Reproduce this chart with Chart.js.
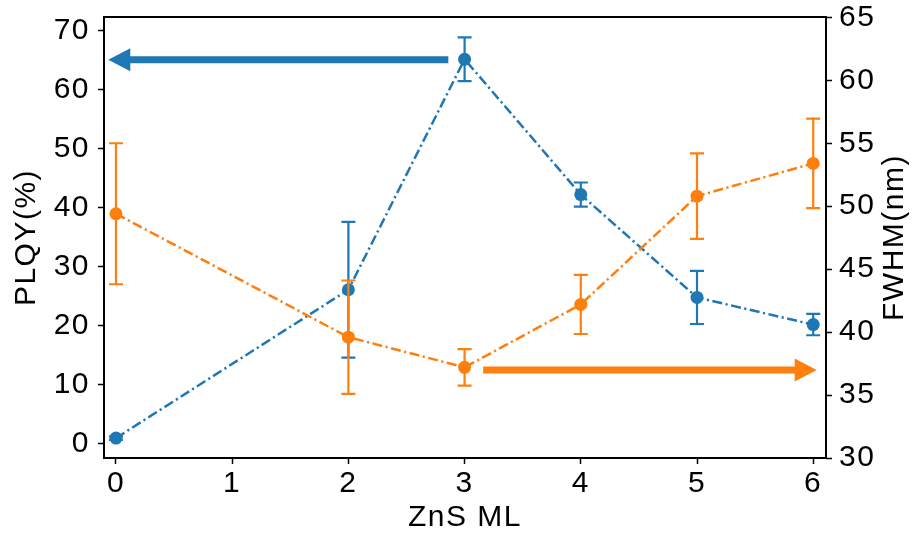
<!DOCTYPE html>
<html><head><meta charset="utf-8">
<script src="https://cdn.jsdelivr.net/npm/chart.js@4"></script>
<style>html,body{margin:0;padding:0;background:#fff}</style>
</head><body>
<canvas id="c" width="917" height="535" style="display:block;width:917px;height:535px"></canvas>
<script>
// ---- data ----
const znsML      = [0, 2, 3, 4, 5, 6];
const plqy       = [1.0, 26.1, 65.1, 42.2, 24.8, 20.2];
const plqyErr    = [0.3, 11.5, 3.7, 2.05, 4.5, 1.8];
const fwhm       = [49.4, 39.6, 37.2, 42.2, 50.8, 53.4];
const fwhmErr    = [5.6, 4.5, 1.45, 2.35, 3.4, 3.55];
const xTicks     = [0, 1, 2, 3, 4, 5, 6];
const plqyTicks  = [0, 10, 20, 30, 40, 50, 60, 70];
const fwhmTicks  = [30, 35, 40, 45, 50, 55, 60, 65];
const plqyArrowX = [2.86, -0.066];   // tail, tip (ZnS ML units)
const plqyArrowY = 65;               // PLQY axis value
const fwhmArrowX = [3.16, 6.03];
const fwhmArrowY = 37;               // FWHM axis value

const BLUE = '#1f77b4', ORANGE = '#ff7f0e';
const FAMILY = '"Liberation Sans", Arial, sans-serif';
const LS = '1.5px';

const pts = (ys) => znsML.map((x, i) => ({x, y: ys[i]}));

const custom = {
  id: 'custom',
  beforeUpdate(chart) { chart.ctx.letterSpacing = LS; },
  beforeDraw(chart) { chart.ctx.letterSpacing = LS; },
  beforeDatasetsDraw(chart) {
    const {ctx, chartArea: a} = chart;
    ctx.save();
    ctx.strokeStyle = '#000';
    ctx.lineWidth = 2;
    ctx.strokeRect(a.left, a.top, a.right - a.left, a.bottom - a.top);
    ctx.restore();
  },
  beforeDatasetDraw(chart, args) {
    const ds = chart.data.datasets[args.index];
    const ctx = chart.ctx, xs = chart.scales.x, ys = chart.scales[ds.yAxisID];
    ctx.save();
    ctx.strokeStyle = ds.borderColor;
    ctx.lineWidth = 2.2;
    ds.data.forEach((p, i) => {
      const e = ds.errors[i];
      const px = xs.getPixelForValue(p.x);
      const lo = ys.getPixelForValue(p.y - e), hi = ys.getPixelForValue(p.y + e);
      ctx.beginPath();
      ctx.moveTo(px, lo); ctx.lineTo(px, hi);
      ctx.moveTo(px - 7, lo); ctx.lineTo(px + 7, lo);
      ctx.moveTo(px - 7, hi); ctx.lineTo(px + 7, hi);
      ctx.stroke();
    });
    ctx.restore();
  },
  afterDatasetsDraw(chart) {
    const ctx = chart.ctx, xs = chart.scales.x;
    const arrow = (xv, yv, ys, color) => {
      const tail = xs.getPixelForValue(xv[0]), tip = xs.getPixelForValue(xv[1]);
      const y = ys.getPixelForValue(yv);
      const d = tip < tail ? 1 : -1, hl = 22, hw = 11.5, sw = 3.5;
      const base = tip + d * hl;
      ctx.save();
      ctx.fillStyle = color;
      ctx.beginPath();
      ctx.moveTo(tail, y - sw);
      ctx.lineTo(base, y - sw);
      ctx.lineTo(base, y - hw);
      ctx.lineTo(tip, y);
      ctx.lineTo(base, y + hw);
      ctx.lineTo(base, y + sw);
      ctx.lineTo(tail, y + sw);
      ctx.closePath();
      ctx.fill();
      ctx.restore();
    };
    arrow(plqyArrowX, plqyArrowY, chart.scales.y, BLUE);
    arrow(fwhmArrowX, fwhmArrowY, chart.scales.y1, ORANGE);
  },
  afterDraw(chart) {
    const {ctx, chartArea: a} = chart;
    ctx.save();
    ctx.letterSpacing = LS;
    ctx.font = '30px ' + FAMILY;
    ctx.fillStyle = '#000';
    ctx.textAlign = 'center';
    ctx.textBaseline = 'middle';
    ctx.translate(895, (a.top + a.bottom) / 2);
    ctx.rotate(-Math.PI / 2);
    ctx.fillText('FWHM(nm)', 0, 0);
    ctx.restore();
  }
};

const tickFont = {family: FAMILY, size: 30, lineHeight: 1};
const yTickFont = {family: FAMILY, size: 30, lineHeight: 0.5};
const gridOpts = {display: true, drawOnChartArea: false, drawTicks: true, tickLength: 6, tickWidth: 1.5, tickColor: '#000'};

new Chart(document.getElementById('c'), {
  type: 'line',
  data: {
    datasets: [
      {label: 'PLQY', data: pts(plqy), errors: plqyErr, yAxisID: 'y',
       borderColor: BLUE, backgroundColor: BLUE, borderWidth: 2.5, borderDash: [10, 3.5, 2.2, 3.5],
       pointRadius: 6.5, pointHoverRadius: 6.5, pointBorderWidth: 0, tension: 0, order: 2},
      {label: 'FWHM', data: pts(fwhm), errors: fwhmErr, yAxisID: 'y1',
       borderColor: ORANGE, backgroundColor: ORANGE, borderWidth: 2.5, borderDash: [10, 3.5, 2.2, 3.5],
       pointRadius: 6.5, pointHoverRadius: 6.5, pointBorderWidth: 0, tension: 0, order: 1}
    ]
  },
  options: {
    responsive: false, animation: false, events: [],
    layout: {padding: {top: 17, left: 0, right: 0, bottom: 0}},
    plugins: {legend: {display: false}, tooltip: {enabled: false}},
    scales: {
      x: {type: 'linear', position: 'bottom', min: -0.103, max: 6.11,
          afterBuildTicks: s => { s.ticks = xTicks.map(v => ({value: v})); },
          afterFit: s => { s.height = 77; },
          border: {display: false}, grid: gridOpts,
          ticks: {color: '#000', font: tickFont, padding: 4.5, maxRotation: 0, autoSkip: false},
          title: {display: true, text: 'ZnS ML', color: '#000', font: tickFont, padding: {top: 0, bottom: 2.2}}},
      y: {type: 'linear', position: 'left', min: -2.37, max: 72.25,
          afterBuildTicks: s => { s.ticks = plqyTicks.map(v => ({value: v})); },
          afterFit: s => { s.width = 104; },
          border: {display: false}, grid: gridOpts,
          ticks: {color: '#000', font: yTickFont, padding: 8, autoSkip: false},
          title: {display: true, text: 'PLQY(%)', color: '#000', font: tickFont, padding: {top: 12.2, bottom: 0}}},
      y1: {type: 'linear', position: 'right', min: 30, max: 65.03,
          afterBuildTicks: s => { s.ticks = fwhmTicks.map(v => ({value: v})); },
          afterFit: s => { s.width = 91; },
          border: {display: false}, grid: gridOpts,
          ticks: {color: '#000', font: yTickFont, padding: 7, autoSkip: false}}
    }
  },
  plugins: [custom]
});
</script>
</body></html>
